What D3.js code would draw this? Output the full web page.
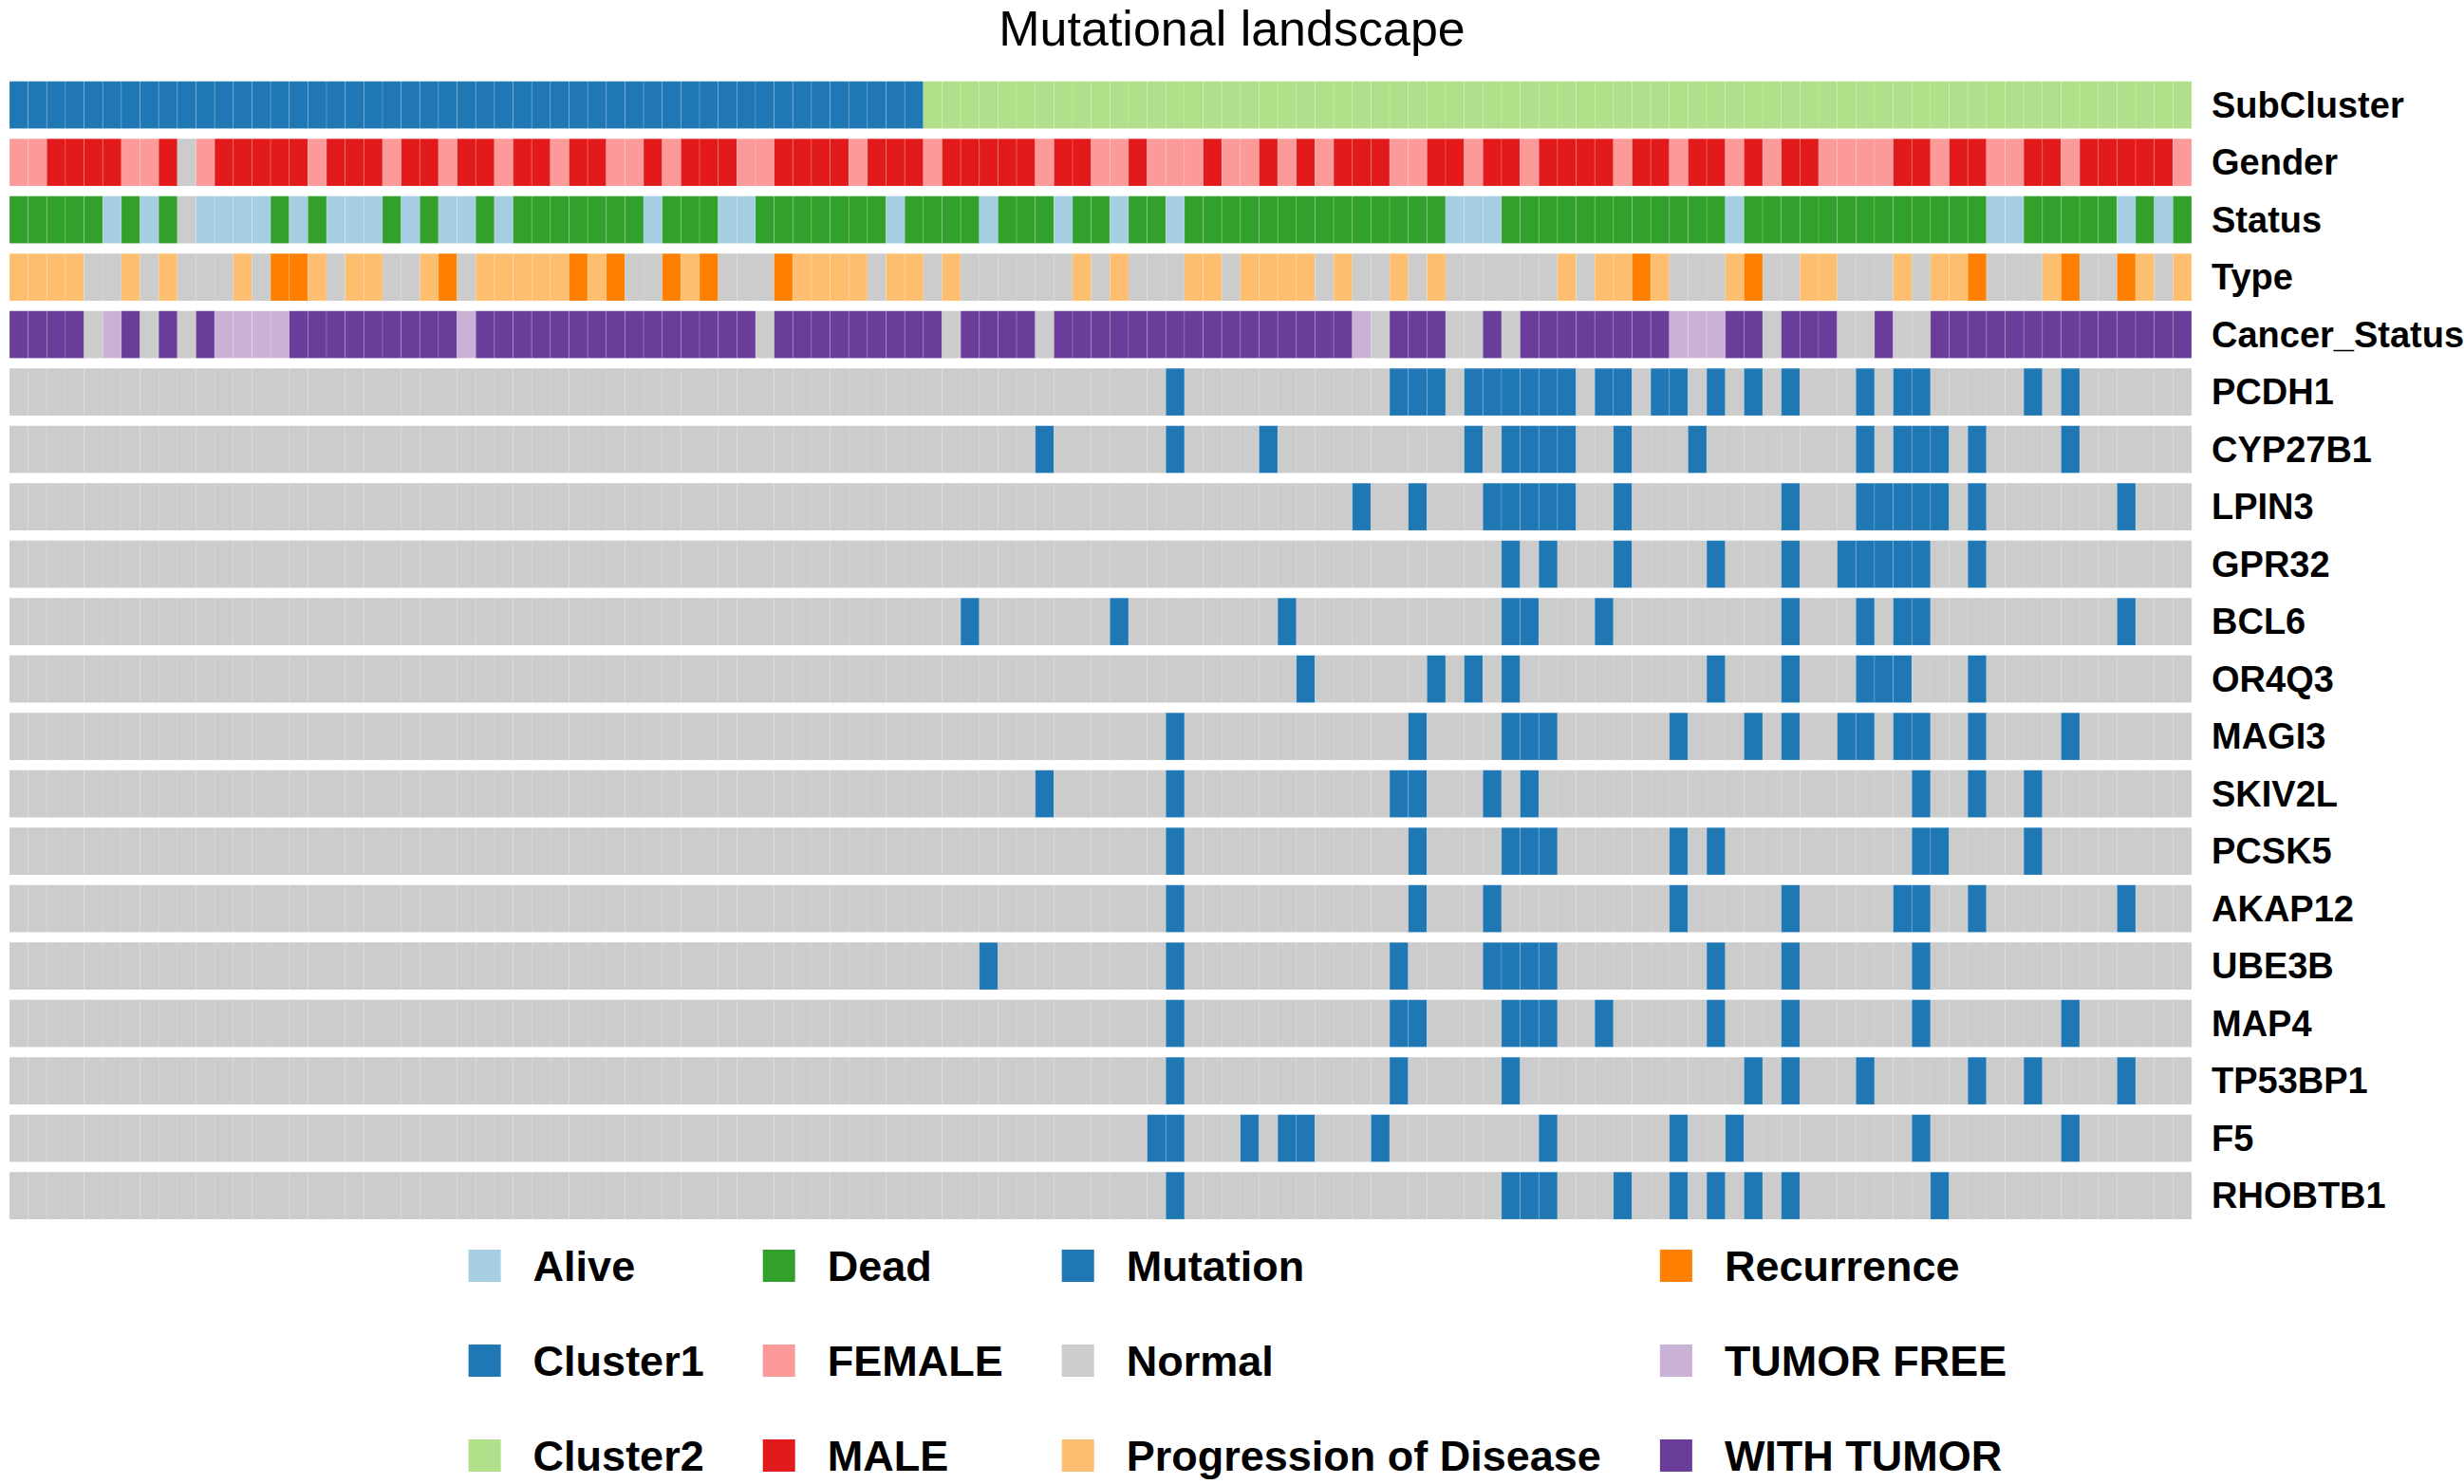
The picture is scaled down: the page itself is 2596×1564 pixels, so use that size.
<!DOCTYPE html>
<html>
<head>
    <meta charset="utf-8">
    <title>Mutational landscape</title>
    <script src="https://cdn.jsdelivr.net/npm/d3@7/dist/d3.min.js"></script>
    <style>
        body { margin: 0; background: #fff; }
        text { font-family: "Liberation Sans", Arial, Helvetica, sans-serif; }
        .rowLabel { font-weight: bold; font-size: 38px; }
        .legendLabel { font-weight: bold; font-size: 45px; }
        .title { font-size: 52px; }
    </style>
</head>
<body>

<div id="vis"></div>

<script>

    // ---- data (117 samples, left to right) ----

    // annotation codes: 1/2 cluster, F/M gender, A/D status, P/R type, T/W cancer status, N = missing (grey)
    var subCluster = ("1".repeat(49) + "2".repeat(68)).split("");

    var gender = ("FFMMMMFFMN" + "FMMMMMFMMM" + "FMMFMMFMMF" + "MMFFMFMMMF" + "FMMMMFMMMF" + "MMMMMFMMFF" +
                  "MFFFMFFMFM" + "FMMMFFMMFM" + "MFMMMMFMMF" + "MMFMFMMFFF" + "FMMFMMFFMM" + "FMMMMMF").split("");

    var vitalStatus = ("DDDDDADADN" + "AAAADADAAA" + "DADAADADDD" + "DDDDADDDAA" + "DDDDDDDADD" + "DDADDDADDA" +
                       "DDADDDDDDD" + "DDDDDDDAAA" + "DDDDDDDDDD" + "DDADDDDDDD" + "DDDDDDAADD" + "DDDADAD").split("");

    var eventType = ("PPPPNNPNPN" + "NNPNRRPNPP" + "NNPRNPPPPP" + "RPRNNRPRNN" + "NRPPPPNPPN" + "PNNNNNNPNP" +
                     "NNNPPNPPPP" + "NPNNPNPNNN" + "NNNPNPPRPN" + "NNPRNNPPNN" + "NPNPPRNNNP" + "RNNRPNP").split("");

    var cancerStatus = ("WWWWNTWNWN" + "WTTTTWWWWW" + "WWWWTWWWWW" + "WWWWWWWWWW" + "NWWWWWWWWW" + "NWWWWNWWWW" +
                        "WWWWWWWWWW" + "WWTNWWWNNW" + "NWWWWWWWWT" + "TTWWNWWWNN" + "WNNWWWWWWW" + "WWWWWWW").split("");

    var annotationNames = ["SubCluster", "Gender", "Status", "Type", "Cancer_Status"];
    var annotationCodes = [subCluster, gender, vitalStatus, eventType, cancerStatus];

    var geneNames = ["PCDH1", "CYP27B1", "LPIN3", "GPR32", "BCL6", "OR4Q3", "MAGI3", "SKIV2L",
                     "PCSK5", "AKAP12", "UBE3B", "MAP4", "TP53BP1", "F5", "RHOBTB1"];

    // sample indices carrying a mutation, one list per gene
    var mutatedSamples = [
        [62, 74, 75, 76, 78, 79, 80, 81, 82, 83, 85, 86, 88, 89, 91, 93, 95, 99, 101, 102, 108, 110],
        [55, 62, 67, 78, 80, 81, 82, 83, 86, 90, 99, 101, 102, 103, 105, 110],
        [72, 75, 79, 80, 81, 82, 83, 86, 95, 99, 100, 101, 102, 103, 105, 113],
        [80, 82, 86, 91, 95, 98, 99, 100, 101, 102, 105],
        [51, 59, 68, 80, 81, 85, 95, 99, 101, 102, 113],
        [69, 76, 78, 80, 91, 95, 99, 100, 101, 105],
        [62, 75, 80, 81, 82, 89, 93, 95, 98, 99, 101, 102, 105, 110],
        [55, 62, 74, 75, 79, 81, 102, 105, 108],
        [62, 75, 80, 81, 82, 89, 91, 102, 103, 108],
        [62, 75, 79, 89, 95, 101, 102, 105, 113],
        [52, 62, 74, 79, 80, 81, 82, 91, 95, 102],
        [62, 74, 75, 80, 81, 82, 85, 91, 95, 102, 110],
        [62, 74, 80, 93, 95, 99, 105, 108, 113],
        [61, 62, 66, 68, 69, 73, 82, 89, 92, 102, 110],
        [62, 80, 81, 82, 86, 89, 91, 93, 95, 103]
    ];

    var codeLabels = {"1": "Cluster1", "2": "Cluster2", F: "FEMALE", M: "MALE", A: "Alive", D: "Dead",
                      P: "Progression of Disease", R: "Recurrence", T: "TUMOR FREE", W: "WITH TUMOR", N: "Normal"};

    // legend entries, filled column by column (3 per column)
    var legendLabels = ["Alive", "Cluster1", "Cluster2", "Dead", "FEMALE", "MALE",
                        "Mutation", "Normal", "Progression of Disease", "Recurrence", "TUMOR FREE", "WITH TUMOR"];
    var legendColors = ["#a6cee3", "#1f78b4", "#b2df8a", "#33a02c", "#fb9a99", "#e31a1c",
                        "#1f78b4", "#cccccc", "#fdbf6f", "#ff7f00", "#cab2d6", "#6a3d9a"];

    /*
     * set up
     */
    var width = 2596, height = 1564;
    var nSamples = subCluster.length;
    var rowNames = annotationNames.concat(geneNames);

    var svg = d3.select("#vis").append("svg")
            .attr("width", width)
            .attr("height", height);

    svg.append("rect").attr("width", width).attr("height", height).attr("fill", "white");

    var x = d3.scaleBand().domain(d3.range(nSamples)).range([10, 2309]);
    var y = d3.scaleBand().domain(rowNames).range([85.7, 1285]).paddingInner(0.177);
    var color = d3.scaleOrdinal().domain(legendLabels).range(legendColors);

    // flatten into cells
    var cells = [];
    annotationNames.forEach(function (name, r) {
        annotationCodes[r].forEach(function (code, i) {
            cells.push({row: name, sample: i, value: codeLabels[code]});
        });
    });
    geneNames.forEach(function (name, g) {
        var hit = new Set(mutatedSamples[g]);
        d3.range(nSamples).forEach(function (i) {
            cells.push({row: name, sample: i, value: hit.has(i) ? "Mutation" : "Normal"});
        });
    });

    svg.append("g").attr("class", "cells")
        .selectAll("rect").data(cells).enter().append("rect")
        .attr("x", function (d) { return x(d.sample); })
        .attr("y", function (d) { return y(d.row); })
        .attr("width", x.bandwidth())
        .attr("height", y.bandwidth())
        .attr("fill", function (d) { return color(d.value); })
        .attr("stroke", "white")
        .attr("stroke-opacity", function (d) { return d.value === "Normal" ? 0.08 : 0.2; })
        .attr("stroke-width", 0.8);

    // row labels on the right
    svg.append("g").selectAll("text").data(rowNames).enter().append("text")
        .attr("class", "rowLabel")
        .attr("x", 2330)
        .attr("y", function (d) { return y(d) + y.bandwidth() / 2; })
        .attr("dominant-baseline", "central")
        .text(function (d) { return d; });

    // title
    svg.append("text").attr("class", "title")
        .attr("x", width / 2).attr("y", 48)
        .attr("text-anchor", "middle")
        .text("Mutational landscape");

    /*
     * legend: 3 rows, columns sized by their widest label, whole block centred
     */
    var sw = 34, textGap = 34, colGap = 62;
    var legendRows = [1334, 1434, 1534];
    var legend = svg.append("g").attr("class", "legend");

    var items = legend.selectAll("g").data(legendLabels).enter().append("g");
    items.append("rect")
        .attr("width", sw).attr("height", sw)
        .attr("y", -sw / 2)
        .attr("fill", function (d) { return color(d); });
    items.append("text").attr("class", "legendLabel")
        .attr("x", sw + textGap)
        .attr("dominant-baseline", "central")
        .text(function (d) { return d; });

    var colWidths = [];
    items.each(function (d, i) {
        var c = Math.floor(i / 3);
        var w = sw + textGap + this.querySelector("text").getComputedTextLength();
        colWidths[c] = Math.max(colWidths[c] || 0, w);
    });
    var colX = [], acc = 0;
    colWidths.forEach(function (w, c) { colX.push(acc); acc += w + (c < colWidths.length - 1 ? colGap : 0); });
    var left = width / 2 + 6 - acc / 2;

    items.attr("transform", function (d, i) {
        return "translate(" + (left + colX[Math.floor(i / 3)]) + "," + legendRows[i % 3] + ")";
    });

</script>

</body>
</html>
